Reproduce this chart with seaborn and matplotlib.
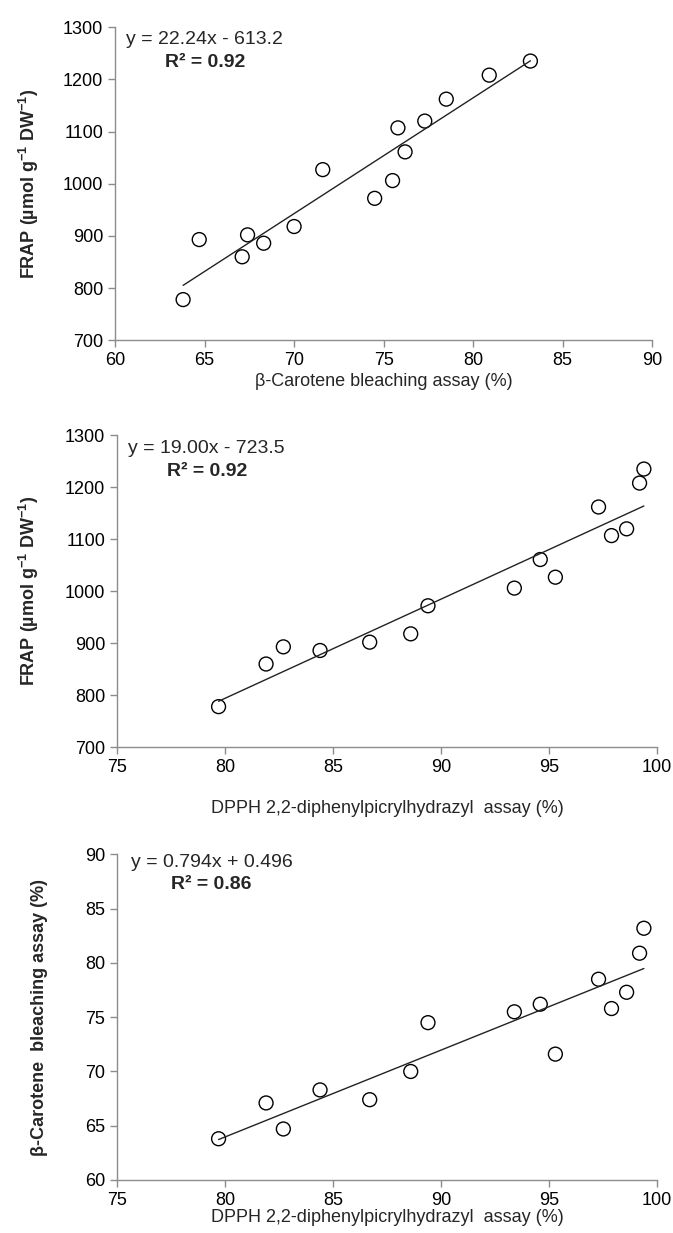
import numpy as np
import pandas as pd
import matplotlib
matplotlib.use("Agg")
import matplotlib.pyplot as plt
import seaborn as sns

# Data (15 samples)
dpph = [79.7, 81.9, 82.7, 84.4, 86.7, 88.6, 89.4, 93.4, 94.6, 95.3, 97.3, 97.9, 98.6, 99.2, 99.4]
beta = [63.8, 67.1, 64.7, 68.3, 67.4, 70.0, 74.5, 75.5, 76.2, 71.6, 78.5, 75.8, 77.3, 80.9, 83.2]
frap = [778, 860, 893, 886, 902, 918, 972, 1006, 1061, 1027, 1162, 1107, 1120, 1208, 1235]

eq_texts = ["y = 22.24x - 613.2", "y = 19.00x - 723.5", "y = 0.794x + 0.496"]
r2_texts = ["R² = 0.92", "R² = 0.92", "R² = 0.86"]

df = pd.DataFrame({"dpph": dpph, "beta": beta, "frap": frap})

sns.set_style("ticks")
plt.rcParams["font.family"] = ["Liberation Sans", "DejaVu Sans"]
plt.rcParams["mathtext.fontset"] = "custom"
plt.rcParams["mathtext.rm"] = "Liberation Sans"
plt.rcParams["mathtext.bf"] = "Liberation Sans:bold"

fig = plt.figure(figsize=(6.73, 12.33), dpi=100)

frap_label = r"FRAP (µmol g$^{\mathbf{-1}}$ DW$^{\mathbf{-1}}$)"
panels = [
    dict(x="beta", y="frap", rect=[0.171, 0.724, 0.798, 0.254], xlim=(60, 90), xt=np.arange(60, 91, 5),
         ylim=(700, 1300), yt=np.arange(700, 1301, 100),
         xlabel="β-Carotene bleaching assay (%)", ylabel=frap_label, xpad=3, ypad=16,
         eq_pos=(0.02, 0.962), r2_pos=(0.093, 0.888)),
    dict(x="dpph", y="frap", rect=[0.174, 0.394, 0.802, 0.253], xlim=(75, 100), xt=np.arange(75, 101, 5),
         ylim=(700, 1300), yt=np.arange(700, 1301, 100),
         xlabel="DPPH 2,2-diphenylpicrylhydrazyl  assay (%)", ylabel=frap_label, xpad=17, ypad=17,
         eq_pos=(0.02, 0.958), r2_pos=(0.093, 0.885)),
    dict(x="dpph", y="beta", rect=[0.174, 0.043, 0.802, 0.264], xlim=(75, 100), xt=np.arange(75, 101, 5),
         ylim=(60, 90), yt=np.arange(60, 91, 5),
         xlabel="DPPH 2,2-diphenylpicrylhydrazyl  assay (%)", ylabel="β-Carotene  bleaching assay (%)", xpad=0, ypad=27,
         eq_pos=(0.025, 0.975), r2_pos=(0.1, 0.908)),
]

gray = "#8c8c8c"
for i, p in enumerate(panels):
    ax = fig.add_axes(p["rect"])
    sns.regplot(data=df, x=p["x"], y=p["y"], ax=ax, ci=None, color="black",
                scatter_kws=dict(s=100, facecolors="none", edgecolors="black", linewidths=1.0, alpha=1),
                line_kws=dict(color="#222222", linewidth=1.0))
    ax.set_xlim(*p["xlim"])
    ax.set_ylim(*p["ylim"])
    ax.set_xticks(p["xt"])
    ax.set_yticks(p["yt"])
    sns.despine(ax=ax)
    for s in ["left", "bottom"]:
        ax.spines[s].set_color(gray)
        ax.spines[s].set_linewidth(1.0)
    ax.tick_params(axis="both", colors=gray, labelcolor="black", labelsize=13, length=5, width=1)
    ax.set_xlabel(p["xlabel"], fontsize=13, labelpad=p["xpad"])
    ax.set_ylabel(p["ylabel"], fontsize=13, fontweight="bold", labelpad=p["ypad"])
    ax.text(*p["eq_pos"], eq_texts[i], transform=ax.transAxes, fontsize=14, va="center", ha="left")
    ax.text(*p["r2_pos"], r2_texts[i], transform=ax.transAxes, fontsize=14, fontweight="bold",
            va="center", ha="left")

fig.savefig("out.png", dpi=100)
